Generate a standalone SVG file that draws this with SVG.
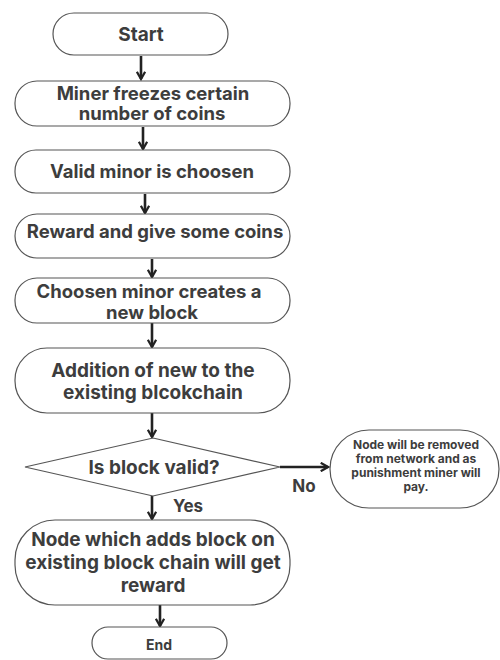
<svg xmlns="http://www.w3.org/2000/svg" width="500" height="660" viewBox="0 0 500 660">
<defs>
<style>
.n{fill:#fff;stroke:#555;stroke-width:1.2}
.t{font-family:Inter,"Liberation Sans",sans-serif;font-weight:700;fill:#3d3d3d;text-anchor:middle}
.c{stroke:#222;stroke-width:2.6;fill:none}
</style>
<marker id="ah" viewBox="0 0 10 10" refX="8" refY="5" markerWidth="4" markerHeight="4" orient="auto" markerUnits="strokeWidth">
<path d="M1,1 L8,5 L1,9" fill="none" stroke="#222" stroke-width="2.2"/>
</marker>
</defs>
<rect width="500" height="660" fill="#fff"/>
<g id="connectors">
<line class="c" x1="141" y1="56" x2="141" y2="79" marker-end="url(#ah)"/>
<line class="c" x1="143" y1="127" x2="143" y2="149" marker-end="url(#ah)"/>
<line class="c" x1="145" y1="194" x2="145" y2="213" marker-end="url(#ah)"/>
<line class="c" x1="152" y1="259" x2="152" y2="277" marker-end="url(#ah)"/>
<line class="c" x1="152" y1="323" x2="152" y2="347" marker-end="url(#ah)"/>
<line class="c" x1="152" y1="413" x2="152" y2="437" marker-end="url(#ah)"/>
<line class="c" x1="280" y1="467" x2="328" y2="467" marker-end="url(#ah)"/>
<line class="c" x1="152" y1="496" x2="152" y2="519" marker-end="url(#ah)"/>
<line class="c" x1="160" y1="605" x2="160" y2="626" marker-end="url(#ah)"/>
<text class="t" x="304" y="492" font-size="17">No</text>
<text class="t" x="188" y="512" font-size="17">Yes</text>
</g>
<g id="start"><rect class="n" x="53" y="13" width="175" height="42" rx="21"/><text class="t" x="141" y="41" font-size="19">Start</text></g>
<g id="freeze"><rect class="n" x="15" y="81" width="275" height="45" rx="22"/><text class="t" x="153" y="100" font-size="18.5">Miner freezes certain</text><text class="t" x="152" y="120" font-size="18.5">number of coins</text></g>
<g id="valid"><rect class="n" x="15" y="150" width="275" height="43" rx="21"/><text class="t" x="152" y="178" font-size="18.5">Valid minor is choosen</text></g>
<g id="reward"><rect class="n" x="15" y="214" width="275" height="44" rx="22"/><text class="t" x="155" y="238" font-size="18.5">Reward and give some coins</text></g>
<g id="create"><rect class="n" x="15" y="278" width="275" height="45" rx="22"/><text class="t" x="149" y="298" font-size="18.5">Choosen minor creates a</text><text class="t" x="152" y="319" font-size="18.5">new block</text></g>
<g id="add"><rect class="n" x="15" y="348" width="275" height="65" rx="32"/><text class="t" x="153" y="377" font-size="19">Addition of new to the</text><text class="t" x="153" y="399" font-size="19">existing blcokchain</text></g>
<g id="decision"><polygon class="n" points="153,438 280,467 153,496 25,467"/><text class="t" x="154" y="474" font-size="19">Is block valid?</text></g>
<g id="removed"><rect class="n" x="330" y="430" width="169" height="78" rx="39"/><text class="t" x="416" y="449" font-size="12">Node will be removed</text><text class="t" x="416" y="463" font-size="12">from network and as</text><text class="t" x="416" y="477" font-size="12">punishment miner will</text><text class="t" x="416" y="491" font-size="12">pay.</text></g>
<g id="rewardnode"><rect class="n" x="15" y="520" width="275" height="85" rx="40"/><text class="t" x="153" y="546" font-size="19">Node which adds block on</text><text class="t" x="153" y="569" font-size="19">existing block chain will get</text><text class="t" x="153" y="592" font-size="19">reward</text></g>
<g id="end"><rect class="n" x="92" y="627" width="135" height="32" rx="16"/><text class="t" x="159" y="650" font-size="14">End</text></g>
</svg>
